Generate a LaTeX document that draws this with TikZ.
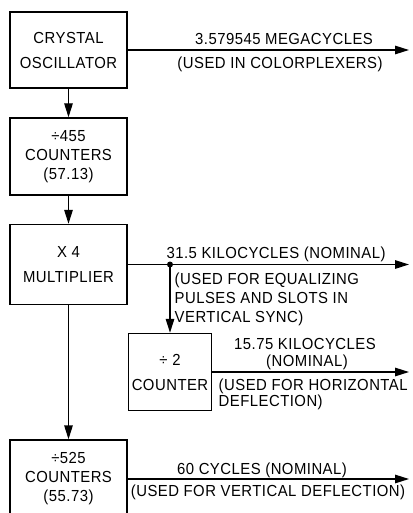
\documentclass[tikz,border=0pt]{standalone}
\usepackage{fontspec}
\setmainfont{Liberation Sans}[LetterSpace=3, FakeStretch=0.93]
\usetikzlibrary{arrows.meta}
\begin{document}
\begin{tikzpicture}[x=1pt,y=-1pt, line width=1.4pt,
  box/.style={draw, rectangle, inner sep=0pt, align=center, minimum width=117, font=\fontsize{16}{25}\selectfont},
  box3/.style={box, font=\fontsize{16}{19}\selectfont},
  lbl/.style={inner sep=0pt, font=\fontsize{16}{19}\selectfont, anchor=base},
  lblw/.style={lbl, anchor=base west},
  arr/.style={-{Triangle[length=14pt,width=8.5pt]}}]
\useasboundingbox (0,0) rectangle (412,513);
\clip (0,0) rectangle (412,513);
% boxes
\node[box, minimum height=76] (osc) at (68.5,50) {CRYSTAL\\OSCILLATOR};
\node[box3, minimum height=77] (c455) at (68.5,156.5) {÷455\\COUNTERS\\(57.13)};
\node[box, minimum height=80] (mult) at (68.5,264.5) {X 4\\MULTIPLIER};
\node[box, minimum width=83, minimum height=77] (div) at (170,372) {÷ 2\\COUNTER};
\node[box3, minimum height=78] (c525) at (68.5,479) {÷525\\COUNTERS\\(55.73)};
% arrow ends
\coordinate (e1) at (409,50);
\coordinate (e2) at (409,264.5);
\coordinate (e3) at (409,372);
\coordinate (e4) at (409,479);
\coordinate (dot) at (170,264.5);
% connectors
\draw[arr] (osc) -- (c455);
\draw[arr] (c455) -- (mult);
\draw[arr] (mult) -- (c525);
\draw[arr] (osc.east) -- (e1);
\draw[arr] (mult.east) -- (e2);
\draw[arr] (dot) -- (div.north);
\fill (dot) circle (3pt);
\draw[arr] (div.east) -- (e3);
\draw[arr] (c525.east) -- (e4);
% labels
\node[lbl] (l1a) at (284,45) {3.579545 MEGACYCLES};
\node[lbl] (l1b) at (280,69) {(USED IN COLORPLEXERS)};
\node[lbl] (l2a) at (276,258) {31.5 KILOCYCLES (NOMINAL)};
\node[lblw] (l2b) at (174,284) {(USED FOR EQUALIZING};
\node[lblw] (l2c) at (174,303) {PULSES AND SLOTS IN};
\node[lblw] (l2d) at (174,322) {VERTICAL SYNC)};
\node[lbl] (l3a) at (305,349) {15.75 KILOCYCLES};
\node[lbl] (l3b) at (307,366) {(NOMINAL)};
\node[lblw] (l3c) at (218,390) {(USED FOR HORIZONTAL};
\node[lblw] (l3d) at (218,406) {DEFLECTION)};
\node[lbl] (l4a) at (262,474) {60 CYCLES (NOMINAL)};
\node[lbl] (l4b) at (268,496) {(USED FOR VERTICAL DEFLECTION)};
\end{tikzpicture}
\end{document}
